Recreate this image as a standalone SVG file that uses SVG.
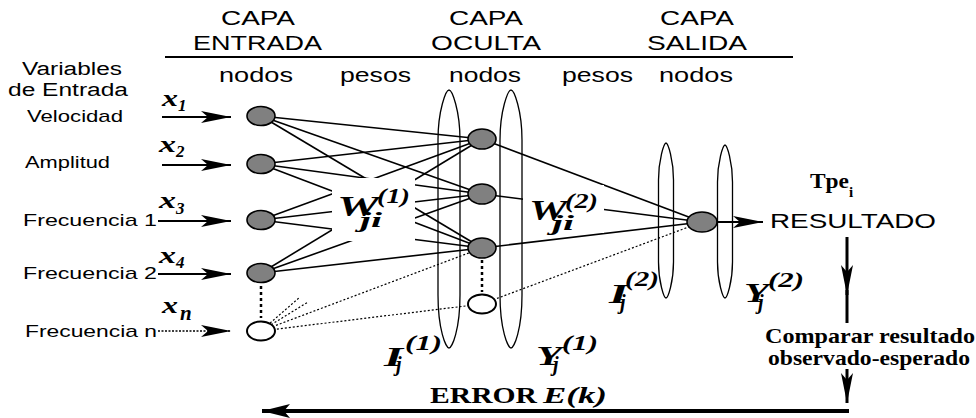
<svg xmlns="http://www.w3.org/2000/svg" width="976" height="418" viewBox="0 0 976 418">
<style>
.sans{font-family:"Liberation Sans",Arial,sans-serif;fill:#000}
.h{font-size:21px}
.lab{font-size:17px}
.ser{font-family:"Liberation Serif","Times New Roman",serif;font-weight:bold;fill:#000}
.it{font-style:italic}
.n{fill:#808080;stroke:#000;stroke-width:1.6}
.o{fill:#fff;stroke:#000;stroke-width:2}
.c{stroke:#000;stroke-width:1.6;fill:none}
.d{stroke:#000;stroke-width:1.2;stroke-dasharray:2,2;fill:none}
.v{stroke:#000;stroke-width:2.5;stroke-dasharray:3,3;fill:none}
.a{stroke:#000;stroke-width:2;fill:none}
.lay{fill:none;stroke:#000;stroke-width:1.3}
</style>
<defs>
<marker id="ah" markerUnits="userSpaceOnUse" markerWidth="30" markerHeight="12" refX="30" refY="6" orient="auto" viewBox="0 0 30 12">
<path d="M0,0 L30,6 L0,12 L7,6 Z" fill="#000"/>
</marker>
<marker id="ah2" markerUnits="userSpaceOnUse" markerWidth="28" markerHeight="14" refX="28" refY="7" orient="auto" viewBox="0 0 28 14">
<path d="M0,0 L28,7 L0,14 L6,7 Z" fill="#000"/>
</marker>
</defs>
<rect width="976" height="418" fill="#fff"/>

<g id="headers">
<text class="sans h" x="221" y="25" textLength="74" lengthAdjust="spacingAndGlyphs">CAPA</text>
<text class="sans h" x="193" y="50" textLength="129" lengthAdjust="spacingAndGlyphs">ENTRADA</text>
<text class="sans h" x="449" y="25" textLength="74" lengthAdjust="spacingAndGlyphs">CAPA</text>
<text class="sans h" x="431" y="50" textLength="110" lengthAdjust="spacingAndGlyphs">OCULTA</text>
<text class="sans h" x="660" y="25" textLength="74" lengthAdjust="spacingAndGlyphs">CAPA</text>
<text class="sans h" x="647" y="50" textLength="100" lengthAdjust="spacingAndGlyphs">SALIDA</text>
<line x1="165" y1="57" x2="793" y2="57" stroke="#000" stroke-width="2"/>
<text class="sans h" x="219" y="82" textLength="74" lengthAdjust="spacingAndGlyphs">nodos</text>
<text class="sans h" x="340" y="82" textLength="71" lengthAdjust="spacingAndGlyphs">pesos</text>
<text class="sans h" x="449" y="82" textLength="72" lengthAdjust="spacingAndGlyphs">nodos</text>
<text class="sans h" x="562" y="82" textLength="71" lengthAdjust="spacingAndGlyphs">pesos</text>
<text class="sans h" x="659" y="82" textLength="74" lengthAdjust="spacingAndGlyphs">nodos</text>
<text class="sans" font-size="18" x="22" y="75" textLength="100" lengthAdjust="spacingAndGlyphs">Variables</text>
<text class="sans" font-size="18" x="8" y="96" textLength="120" lengthAdjust="spacingAndGlyphs">de Entrada</text>
</g>

<g id="connectors">
<line class="a" x1="162" y1="117" x2="231" y2="117" marker-end="url(#ah)"/>
<line class="a" x1="162" y1="165" x2="231" y2="165" marker-end="url(#ah)"/>
<line class="a" x1="158" y1="221" x2="231" y2="221" marker-end="url(#ah)"/>
<line class="a" x1="158" y1="274" x2="231" y2="274" marker-end="url(#ah)"/>
<line x1="158" y1="331" x2="231" y2="331" stroke="#000" stroke-width="1.6" stroke-dasharray="2,1.5" marker-end="url(#ah)"/>
<line class="c" x1="261" y1="116" x2="482" y2="139"/>
<line class="c" x1="261" y1="116" x2="482" y2="194"/>
<line class="c" x1="261" y1="116" x2="482" y2="248"/>
<line class="c" x1="261" y1="164" x2="482" y2="139"/>
<line class="c" x1="261" y1="164" x2="482" y2="194"/>
<line class="c" x1="261" y1="164" x2="482" y2="248"/>
<line class="c" x1="261" y1="220" x2="482" y2="139"/>
<line class="c" x1="261" y1="220" x2="482" y2="194"/>
<line class="c" x1="261" y1="220" x2="482" y2="248"/>
<line class="c" x1="261" y1="273" x2="482" y2="139"/>
<line class="c" x1="261" y1="273" x2="482" y2="194"/>
<line class="c" x1="261" y1="273" x2="482" y2="248"/>
<line class="d" x1="261" y1="331" x2="482" y2="248"/>
<line class="d" x1="261" y1="331" x2="482" y2="304"/>
<line class="d" x1="261" y1="331" x2="300" y2="297"/>
<line class="d" x1="261" y1="331" x2="308" y2="302"/>
<line class="c" x1="482" y1="139" x2="702" y2="222"/>
<line class="c" x1="482" y1="194" x2="702" y2="222"/>
<line class="c" x1="482" y1="248" x2="702" y2="222"/>
<line class="d" x1="482" y1="304" x2="702" y2="222"/>
<line class="v" x1="261" y1="286" x2="261" y2="318"/>
<line class="v" x1="482" y1="260" x2="482" y2="292"/>
<line class="a" x1="716" y1="222" x2="763" y2="222" marker-end="url(#ah)"/>
<line x1="847" y1="237" x2="847" y2="295" stroke="#000" stroke-width="3" marker-end="url(#ah)"/>
<line x1="847" y1="290" x2="847" y2="323" stroke="#000" stroke-width="3"/>
<line x1="847" y1="369" x2="847" y2="403" stroke="#000" stroke-width="3" marker-end="url(#ah)"/>
<line x1="849" y1="411" x2="262" y2="411" stroke="#000" stroke-width="4" marker-end="url(#ah2)"/>
</g>

<g id="label-gaps" fill="#fff">
<rect x="332" y="178" width="83" height="63"/>
<rect x="523" y="185" width="81" height="48"/>
</g>

<g id="layers">
<path class="lay" d="M438,140 C438,110 446,90 449,90 C452,90 460,110 460,140 L460,295 C460,330 452,348 449,348 C446,348 438,330 438,295 Z"/>
<path class="lay" d="M500,140 C500,110 508,90 511,90 C514,90 522,110 522,140 L522,295 C522,330 514,348 511,348 C508,348 500,330 500,295 Z"/>
<path class="lay" d="M658.5,180 C658.5,160 664,143 666,143 C668,143 673.5,160 673.5,180 L673.5,262 C673.5,282 668,298 666,298 C664,298 658.5,282 658.5,262 Z"/>
<path class="lay" d="M717.5,182 C717.5,162 723,145 725,145 C727,145 732.5,162 732.5,182 L732.5,262 C732.5,282 727,298 725,298 C723,298 717.5,282 717.5,262 Z"/>
</g>

<g id="input-1"><ellipse class="n" cx="261" cy="116" rx="14" ry="9.5"/></g>
<g id="input-2"><ellipse class="n" cx="261" cy="164" rx="14" ry="9.5"/></g>
<g id="input-3"><ellipse class="n" cx="261" cy="220" rx="14" ry="9.5"/></g>
<g id="input-4"><ellipse class="n" cx="261" cy="273" rx="14" ry="9.5"/></g>
<g id="input-n"><ellipse class="o" cx="261" cy="331" rx="14" ry="9.5"/></g>
<g id="hidden-1"><ellipse class="n" cx="482" cy="139" rx="14" ry="10"/></g>
<g id="hidden-2"><ellipse class="n" cx="482" cy="194" rx="14" ry="10"/></g>
<g id="hidden-3"><ellipse class="n" cx="482" cy="248" rx="14" ry="10"/></g>
<g id="hidden-n"><ellipse class="o" cx="482" cy="304" rx="14" ry="9.5"/></g>
<g id="output"><ellipse class="n" cx="702" cy="222" rx="15" ry="10"/></g>

<g id="input-labels">
<text class="sans lab" x="27" y="122" textLength="96" lengthAdjust="spacingAndGlyphs">Velocidad</text>
<text class="sans lab" x="25" y="168" textLength="85" lengthAdjust="spacingAndGlyphs">Amplitud</text>
<text class="sans lab" x="23" y="226" textLength="134" lengthAdjust="spacingAndGlyphs">Frecuencia 1</text>
<text class="sans lab" x="23" y="279" textLength="134" lengthAdjust="spacingAndGlyphs">Frecuencia 2</text>
<text class="sans lab" x="25" y="337" textLength="132" lengthAdjust="spacingAndGlyphs">Frecuencia n</text>
<text class="ser it" font-size="23" x="162" y="106"><tspan textLength="16" lengthAdjust="spacingAndGlyphs">x</tspan><tspan font-size="17" dy="5">1</tspan></text>
<text class="ser it" font-size="23" x="159" y="152"><tspan textLength="17" lengthAdjust="spacingAndGlyphs">x</tspan><tspan font-size="17" dy="5">2</tspan></text>
<text class="ser it" font-size="23" x="159" y="208"><tspan textLength="17" lengthAdjust="spacingAndGlyphs">x</tspan><tspan font-size="17" dy="6">3</tspan></text>
<text class="ser it" font-size="23" x="159" y="263"><tspan textLength="17" lengthAdjust="spacingAndGlyphs">x</tspan><tspan font-size="17" dy="5">4</tspan></text>
<text class="ser it" font-size="23" x="162" y="313"><tspan textLength="16" lengthAdjust="spacingAndGlyphs">x</tspan><tspan font-size="21" dx="2" dy="7">n</tspan></text>
</g>

<g id="weight-labels">
<text class="ser it" font-size="30"><tspan x="337" y="216" textLength="42" lengthAdjust="spacingAndGlyphs">W</tspan><tspan x="377" y="203" font-size="21" textLength="33" lengthAdjust="spacingAndGlyphs">(1)</tspan><tspan x="360" y="227" font-size="21" textLength="22" lengthAdjust="spacingAndGlyphs">ji</tspan></text>
<text class="ser it" font-size="30"><tspan x="529" y="220" textLength="38" lengthAdjust="spacingAndGlyphs">W</tspan><tspan x="565" y="208" font-size="21" textLength="33" lengthAdjust="spacingAndGlyphs">(2)</tspan><tspan x="552" y="230" font-size="21" textLength="22" lengthAdjust="spacingAndGlyphs">ji</tspan></text>
<text class="ser it" font-size="28"><tspan x="384" y="366" textLength="19" lengthAdjust="spacingAndGlyphs">I</tspan><tspan x="405" y="350" font-size="21" textLength="37" lengthAdjust="spacingAndGlyphs">(1)</tspan><tspan x="396" y="371" font-size="20">j</tspan></text>
<text class="ser it" font-size="28"><tspan x="536" y="365" textLength="26" lengthAdjust="spacingAndGlyphs">Y</tspan><tspan x="562" y="350" font-size="21" textLength="36" lengthAdjust="spacingAndGlyphs">(1)</tspan><tspan x="553" y="371" font-size="20">j</tspan></text>
<text class="ser it" font-size="28"><tspan x="609" y="303" textLength="19" lengthAdjust="spacingAndGlyphs">I</tspan><tspan x="625" y="286" font-size="21" textLength="34" lengthAdjust="spacingAndGlyphs">(2)</tspan><tspan x="620" y="309" font-size="20">j</tspan></text>
<text class="ser it" font-size="28"><tspan x="744" y="302" textLength="25" lengthAdjust="spacingAndGlyphs">Y</tspan><tspan x="768" y="287" font-size="21" textLength="36" lengthAdjust="spacingAndGlyphs">(2)</tspan><tspan x="758" y="309" font-size="20">j</tspan></text>
</g>

<g id="result">
<text class="ser" font-size="20" x="810" y="188"><tspan textLength="39" lengthAdjust="spacingAndGlyphs">Tpe</tspan><tspan font-size="15" dy="9">i</tspan></text>
<text class="sans" font-size="21" x="770" y="228" textLength="166" lengthAdjust="spacingAndGlyphs">RESULTADO</text>
<text class="ser" font-size="21" x="765" y="343" textLength="210" lengthAdjust="spacingAndGlyphs">Comparar resultado</text>
<text class="ser" font-size="21" x="768" y="365" textLength="202" lengthAdjust="spacingAndGlyphs">observado-esperado</text>
<text class="ser" font-size="24" x="430" y="403" textLength="107" lengthAdjust="spacingAndGlyphs">ERROR</text>
<text class="ser it" font-size="24" x="543" y="403" textLength="64" lengthAdjust="spacingAndGlyphs">E(k)</text>
</g>
</svg>
